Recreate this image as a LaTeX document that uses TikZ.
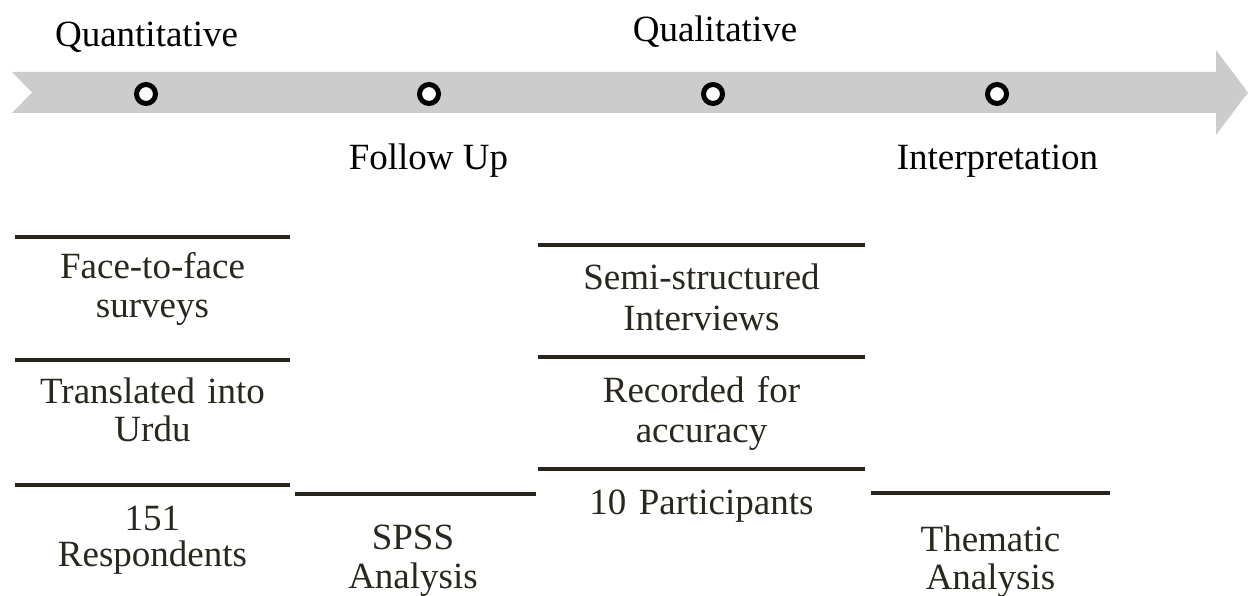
\documentclass[tikz,border=0pt]{standalone}
\usepackage{fontspec}
\setmainfont{Liberation Serif}
\definecolor{txtc}{RGB}{42,39,31}
\definecolor{linec}{RGB}{40,37,30}
\definecolor{bandc}{RGB}{204,204,204}
\begin{document}
\begin{tikzpicture}[x=1pt,y=-1pt,
  lbl/.style={font=\fontsize{37}{44}\selectfont, inner sep=0pt, anchor=base, text=black},
  blk/.style={inner sep=0pt, anchor=base, align=center, text width=330pt, text=txtc},
  rulebar/.style={line width=4pt, draw=linec},
  dotmark/.style={circle, draw=black, line width=5pt, fill=white, minimum size=19pt, inner sep=0pt}]
\useasboundingbox (0,0) rectangle (1248,596);
% timeline band
\fill[bandc] (12,72) -- (1216,72) -- (1216,50) -- (1248,92.5) -- (1216,135) -- (1216,113) -- (12,113) -- (32,92.5) -- cycle;
\node[dotmark] (d1) at (146,94) {};
\node[dotmark] (d2) at (429,94) {};
\node[dotmark] (d3) at (713,94) {};
\node[dotmark] (d4) at (997,94) {};
% phase labels
\node[lbl] (quan) at (146.5,47) {Quantitative};
\node[lbl] (qual) at (715,42) {Qualitative};
\node[lbl] (fu) at (428.5,170) {Follow Up};
\node[lbl] (interp) at (997.5,170) {Interpretation};
% rules
\draw[rulebar] (15,237) -- (290,237);
\draw[rulebar] (15,360) -- (290,360);
\draw[rulebar] (15,485) -- (290,485);
\draw[rulebar] (295,494) -- (536,494);
\draw[rulebar] (538,245) -- (865,245);
\draw[rulebar] (538,357) -- (865,357);
\draw[rulebar] (538,469) -- (865,469);
\draw[rulebar] (871,493) -- (1110,493);
% block texts
\node[blk, font=\fontsize{37}{39}\selectfont] (ff) at (152.5,279) {Face-to-face\\surveys};
\node[blk, font=\fontsize{37}{38}\selectfont] (tu) at (152.5,403) {Translated into\\Urdu};
\node[blk, font=\fontsize{37}{36}\selectfont] (re) at (152.5,530) {151\\Respondents};
\node[blk, font=\fontsize{37}{39}\selectfont] (sp) at (413,549) {SPSS\\Analysis};
\node[blk, font=\fontsize{37}{40}\selectfont] (ss) at (701.5,290) {Semi-structured\\Interviews};
\node[blk, font=\fontsize{37}{40}\selectfont] (ra) at (701.5,402) {Recorded for\\accuracy};
\node[blk, font=\fontsize{37}{36}\selectfont] (pa) at (701.5,514) {10 Participants};
\node[blk, font=\fontsize{37}{38}\selectfont] (ta) at (990.5,551) {Thematic\\Analysis};
\end{tikzpicture}
\end{document}
